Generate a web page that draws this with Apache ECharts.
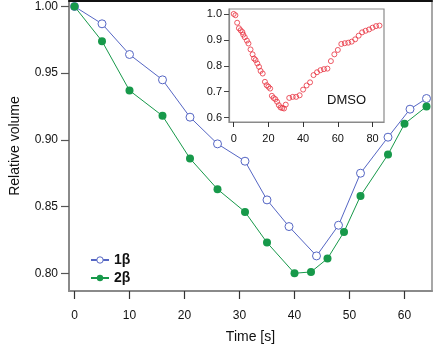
<!DOCTYPE html>
<html>
<head>
<meta charset="utf-8">
<script src="https://cdn.jsdelivr.net/npm/echarts@6/dist/echarts.min.js"></script>
<style>
  html, body { margin: 0; padding: 0; background: #fff; }
  #chart { width: 433px; height: 349px; }
</style>
</head>
<body>
<div id="chart"></div>
<script>
// main plot data
const time1 = [0, 5, 10, 16, 21, 26, 31, 35, 39, 44, 48, 52, 57, 61, 64]
const vol1 = [1.000, 0.987, 0.964, 0.945, 0.917, 0.897, 0.884, 0.855, 0.835, 0.813, 0.836, 0.875, 0.902, 0.923, 0.931]
const time2 = [0, 5, 10, 16, 21, 26, 31, 35, 40, 43, 46, 49, 52, 57, 60, 64]
const vol2 = [1.000, 0.974, 0.937, 0.918, 0.886, 0.863, 0.846, 0.823, 0.800, 0.801, 0.811, 0.831, 0.858, 0.889, 0.912, 0.925]
const seriesNames = ['1β', '2β']

// inset (DMSO)
const timeD = [0, 1, 2, 3, 4, 5, 5.5, 6.4, 7.6, 8.5, 9.7, 10.9, 11.7, 12.6, 13.6, 14.6, 15.5, 16.7,
  18, 19, 20, 21, 22, 23, 24, 25, 26, 27, 28, 29, 30, 32, 34, 36, 38, 40, 42, 44, 46, 48,
  50, 52, 54, 56, 58, 60, 62, 64, 66, 68, 70, 72, 74, 76, 78, 80, 82, 84]
const volD = [1.000, 0.995, 0.966, 0.945, 0.937, 0.930, 0.920, 0.910, 0.897, 0.886, 0.863, 0.844, 0.828, 0.822, 0.809, 0.796, 0.780, 0.770,
  0.738, 0.725, 0.719, 0.712, 0.684, 0.676, 0.671, 0.661, 0.648, 0.639, 0.637, 0.635, 0.650, 0.676, 0.680, 0.680, 0.686, 0.708, 0.724, 0.736, 0.764, 0.775,
  0.783, 0.787, 0.789, 0.818, 0.844, 0.861, 0.884, 0.887, 0.889, 0.893, 0.902, 0.916, 0.929, 0.935, 0.940, 0.947, 0.953, 0.955]

const xTicks = [0, 10, 20, 30, 40, 50, 60]
const yTicks = [0.80, 0.85, 0.90, 0.95, 1.00]
const xTicksInset = [0, 20, 40, 60, 80]
const yTicksInset = [0.6, 0.7, 0.8, 0.9, 1.0]

const pairs = (xs, ys) => xs.map((x, i) => [x, ys[i]])

const font = 'Liberation Sans, Arial, sans-serif'
const blue = '#5566c4'
const green = '#17994a'
const red = '#e8313f'
const gray = '#8a8a8a'

const chart = echarts.init(document.getElementById('chart'))
chart.setOption({
  animation: false,
  backgroundColor: '#fff',
  textStyle: { fontFamily: font },
  grid: [
    { left: 66, right: 1, top: 1, bottom: 50, show: true, borderColor: gray, borderWidth: 1.5 },
    { left: 229, right: 49, top: 9, bottom: 227, show: true, backgroundColor: '#fff', borderColor: gray, borderWidth: 1.2 }
  ],
  xAxis: [
    {
      gridIndex: 0, type: 'value', min: -1, max: 65,
      name: 'Time [s]', nameLocation: 'middle', nameGap: 39,
      nameTextStyle: { fontSize: 14, color: '#111', fontFamily: font },
      splitLine: { show: false },
      axisLine: { show: true, onZero: false, lineStyle: { color: gray, width: 2 } },
      axisTick: { show: true, length: 8, customValues: xTicks, lineStyle: { color: '#333', width: 1.2 } },
      axisLabel: { customValues: xTicks, margin: 19, fontSize: 12, color: '#111', fontFamily: font }
    },
    {
      // top border of the main frame
      gridIndex: 0, type: 'value', position: 'top', min: -1, max: 65,
      splitLine: { show: false }, axisTick: { show: false }, axisLabel: { show: false },
      axisLine: { show: true, onZero: false, lineStyle: { color: '#111', width: 2 } }
    },
    {
      gridIndex: 1, type: 'value', min: -2.7, max: 86.6,
      splitLine: { show: false },
      axisLine: { show: true, onZero: false, lineStyle: { color: gray, width: 1.2 } },
      axisTick: { show: true, length: 5, customValues: xTicksInset, lineStyle: { color: '#333' } },
      axisLabel: { customValues: xTicksInset, margin: 11, fontSize: 11, color: '#111', fontFamily: font }
    }
  ],
  yAxis: [
    {
      gridIndex: 0, type: 'value', min: 0.7867, max: 1.0041,
      name: 'Relative volume', nameLocation: 'middle', nameGap: 47,
      nameTextStyle: { fontSize: 14, color: '#111', fontFamily: font },
      splitLine: { show: false },
      axisLine: { show: true, onZero: false, lineStyle: { color: gray, width: 2 } },
      axisTick: { show: true, length: 8, customValues: yTicks, lineStyle: { color: '#555', width: 1.2 } },
      axisLabel: { customValues: yTicks, margin: 11, fontSize: 12, color: '#111', fontFamily: font,
        formatter: v => v.toFixed(2) }
    },
    {
      gridIndex: 1, type: 'value', min: 0.583, max: 1.019,
      splitLine: { show: false },
      axisLine: { show: true, onZero: false, lineStyle: { color: gray, width: 1.2 } },
      axisTick: { show: true, length: 5, customValues: yTicksInset, lineStyle: { color: '#444' } },
      axisLabel: { customValues: yTicksInset, margin: 7, fontSize: 11, color: '#111', fontFamily: font,
        formatter: v => v.toFixed(1) }
    }
  ],
  legend: {
    orient: 'vertical', left: 85, top: 248, itemWidth: 18, itemHeight: 8, itemGap: 4,
    textStyle: { fontSize: 14, fontWeight: 'bold', color: '#111', fontFamily: font },
    data: [
      { name: seriesNames[0], itemStyle: { color: '#fff', borderColor: blue, borderWidth: 1 } },
      { name: seriesNames[1] }
    ]
  },
  graphic: [
    { type: 'text', left: 327, top: 94, style: { text: 'DMSO', fontSize: 13, fill: '#111', fontFamily: font } }
  ],
  series: [
    {
      name: seriesNames[0], type: 'line', xAxisIndex: 0, yAxisIndex: 0,
      symbol: 'circle', symbolSize: 8,
      lineStyle: { color: blue, width: 1 },
      itemStyle: { color: '#fff', borderColor: blue, borderWidth: 1 },
      data: pairs(time1, vol1)
    },
    {
      name: seriesNames[1], type: 'line', xAxisIndex: 0, yAxisIndex: 0,
      symbol: 'circle', symbolSize: 8,
      lineStyle: { color: green, width: 1 },
      itemStyle: { color: green },
      data: pairs(time2, vol2)
    },
    {
      name: 'DMSO', type: 'scatter', xAxisIndex: 2, yAxisIndex: 1,
      symbol: 'circle', symbolSize: 5,
      itemStyle: { color: 'rgba(255,255,255,0)', borderColor: red, borderWidth: 1 },
      data: pairs(timeD, volD)
    }
  ]
})
</script>
</body>
</html>
